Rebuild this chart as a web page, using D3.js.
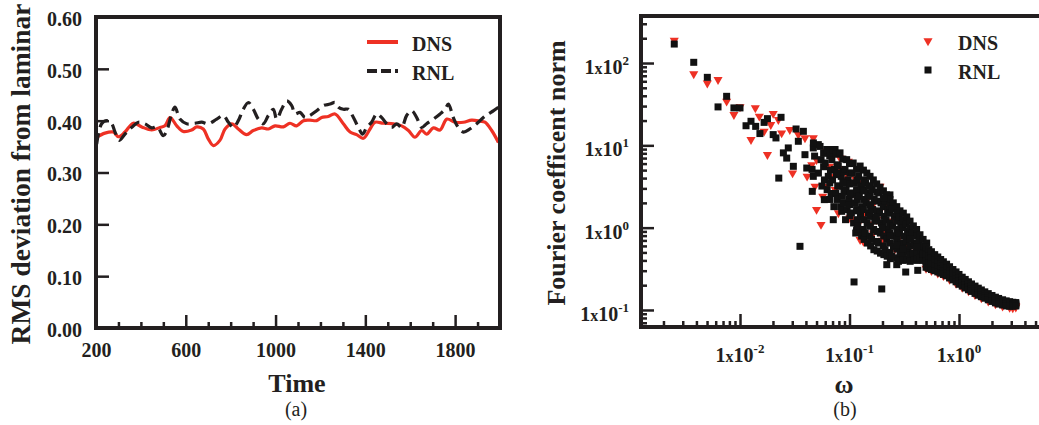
<!DOCTYPE html>
<html>
<head>
<meta charset="utf-8">
<script src="https://cdn.jsdelivr.net/npm/d3@7"></script>
<style>
body { margin: 0; background: #fff; }
text { font-family: "Liberation Serif", "Times New Roman", serif; }
</style>
</head>
<body>
<svg id="chart" width="1039" height="425"></svg>
<script>
// ---- panel (a): RMS deviation vs time ----
const dnsTime = [203,240,277,300,329,366,404,448,485,507,530,560,589,626,649,678,700,723,752,775,805,834,871,901,938,968,998,1035,1064,1094,1124,1153,1183,1205,1235,1265,1302,1332,1361,1391,1421,1443,1480,1525,1562,1592,1621,1651,1673,1703,1733,1763,1800,1837,1874,1911,1933,1963,1993];
const dnsRms = [0.368,0.376,0.378,0.369,0.378,0.395,0.388,0.382,0.387,0.390,0.406,0.390,0.379,0.382,0.388,0.384,0.365,0.352,0.362,0.384,0.394,0.384,0.373,0.381,0.386,0.384,0.390,0.388,0.395,0.390,0.400,0.401,0.400,0.406,0.408,0.413,0.394,0.378,0.373,0.366,0.384,0.397,0.395,0.394,0.390,0.381,0.368,0.381,0.374,0.386,0.382,0.403,0.397,0.397,0.401,0.399,0.397,0.381,0.358];
const rnlTime = [203,225,248,270,285,304,329,359,389,418,448,473,500,518,537,552,574,604,641,671,700,738,767,790,812,834,856,879,901,923,945,968,990,1005,1027,1050,1072,1087,1109,1131,1153,1183,1213,1243,1265,1280,1302,1324,1347,1369,1388,1406,1428,1451,1473,1495,1517,1540,1562,1584,1607,1629,1651,1673,1703,1733,1755,1770,1792,1814,1837,1866,1896,1926,1948,1970,1993];
const rnlRms = [0.355,0.394,0.400,0.394,0.378,0.362,0.374,0.387,0.397,0.394,0.386,0.388,0.371,0.384,0.413,0.426,0.403,0.394,0.395,0.397,0.394,0.403,0.410,0.397,0.387,0.400,0.422,0.435,0.422,0.403,0.394,0.410,0.422,0.403,0.422,0.438,0.429,0.413,0.416,0.406,0.410,0.419,0.429,0.432,0.435,0.426,0.422,0.422,0.406,0.387,0.374,0.387,0.397,0.413,0.406,0.394,0.387,0.394,0.387,0.410,0.419,0.406,0.387,0.394,0.403,0.413,0.422,0.432,0.406,0.387,0.378,0.384,0.394,0.406,0.413,0.419,0.426];
const timeTicks = [200,600,1000,1400,1800];
const timeMinor = [300,400,500,700,800,900,1100,1200,1300,1500,1600,1700,1900];
const rmsTicks = [0,0.1,0.2,0.3,0.4,0.5,0.6];

// ---- panel (b): Fourier coefficient norm vs omega ----
const dnsSpectrum = [
  [0.00251,189],[0.00378,73.7],[0.00503,57],[0.0063,62.8],[0.00755,34.3],[0.0088,23.6],[0.01,29.3],
  [0.0126,11.7],[0.0138,28.5],[0.015,22.5],[0.0166,14.8],[0.0178,7.7],[0.0191,17.8],[0.0201,24.3],
  [0.0224,20.5],[0.024,14.1],[0.0285,15.5],[0.0302,4.6],[0.0341,13.5],[0.0392,12.3],[0.0467,12.3],
  [0.041,4.2],[0.0484,3.18],[0.05,1.66],[0.0549,1.09],[0.0619,3.18],[0.0791,1.51],[0.101,1.31],
  [0.119,1.09],[0.125,0.715],[0.134,0.68],[0.0619,8.45],[0.066,5.56],[0.0976,6.4],[0.088,3.83],
  [0.108,2.64],[0.16,1.81],[0.177,1.25],[0.211,0.86],[0.165,0.86],[0.149,2.64],[0.19,3.18],
  [0.05,6.7],[0.0452,5.8],[0.0711,4.2],[0.1125,1.25],[0.0819,7.0],[0.094,4.5],[0.125,3.5],
  [0.144,2.2],[0.19,1.6],[0.25,1.2],[0.29,0.8],[0.333,0.6],[0.383,0.5],[0.44,0.42],[0.3,1.5],[0.22,2.0],
  [0.057,2.4],[0.074,2.9],[0.083,5.2],[0.113,3.9],[0.138,1.5],[0.158,1.1],[0.2,0.7],[0.26,0.55]
];
const dnsBand = [
  [0.5,0.36,0.32],[0.56,0.34,0.3],[0.64,0.31,0.28],[0.72,0.285,0.26],[0.82,0.26,0.235],[0.94,0.23,0.21],
  [1.07,0.205,0.188],[1.22,0.185,0.17],[1.4,0.165,0.153],[1.6,0.15,0.14],[1.85,0.137,0.128],
  [2.15,0.126,0.118],[2.5,0.117,0.111],[2.9,0.112,0.107],[3.1,0.111,0.106],[3.3,0.112,0.108]
];
const rnlSpectrum = [
  [0.00251,170],[0.00378,102],[0.00503,67],[0.0063,29.3],[0.00755,39.4],[0.0088,28.5],[0.01,28.5],
  [0.01135,17.3],[0.0126,19.6],[0.0139,17],[0.0152,13.9],[0.0166,19],[0.0178,21.1],[0.0201,13.5],
  [0.0213,12.3],[0.0237,21.9],[0.0226,4.0],[0.0249,8.1],[0.0276,9.3],[0.0267,7.0],[0.0307,5.56],
  [0.0325,15.8],[0.0379,14.8],[0.0341,11.2],[0.0392,7.7],[0.0407,5.3],[0.0457,2.76],[0.0467,4.2],
  [0.0353,0.593],[0.0589,2.19],[0.0711,1.25],[0.0849,1.58],[0.110,0.219],[0.197,0.18],[0.219,0.355],
  [0.27,0.355],[0.326,0.289],[0.42,0.303],[0.116,0.92],[0.234,2.5],[0.0519,10.2],[0.0738,8.9],[0.0467,9.3],
  // dense cluster
  [0.0468,10.7],[0.048,7.4],[0.0455,5.1],
  [0.0538,9.7],[0.055,6.7],[0.052,4.6],[0.056,3.2],
  [0.058,8.0],[0.058,5.5],[0.059,3.8],
  [0.0619,8.9],[0.060,6.1],[0.064,4.2],[0.0625,2.9],[0.066,2.2],
  [0.066,7.5],[0.067,5.0],[0.066,3.5],[0.068,2.6],
  [0.0711,8.9],[0.069,6.7],[0.073,5.1],[0.070,3.8],[0.075,2.6],[0.072,1.8],
  [0.076,7.8],[0.077,5.8],[0.076,4.4],[0.078,3.2],[0.077,2.2],
  [0.0819,8.1],[0.079,5.6],[0.084,4.2],[0.081,3.2],[0.086,2.4],[0.083,1.8],
  [0.087,6.8],[0.088,4.8],[0.087,3.6],[0.089,2.7],[0.088,2.0],
  [0.0942,6.7],[0.091,5.1],[0.097,3.8],[0.093,2.9],[0.099,2.2],[0.095,1.66],[0.092,1.25],
  [0.1,6.0],[0.101,4.6],[0.1,3.4],[0.102,2.5],[0.1,1.9],[0.101,1.4],
  [0.108,6.1],[0.105,4.6],[0.111,3.5],[0.107,2.64],[0.113,2.0],[0.104,1.51],[0.109,1.14],[0.114,0.86],
  [0.116,5.1],[0.117,3.8],[0.116,2.9],[0.118,2.2],[0.116,1.66],[0.118,1.25],[0.117,0.95],
  [0.125,5.6],[0.121,4.2],[0.128,3.2],[0.123,2.4],[0.13,1.8],[0.126,1.37],[0.119,1.04],[0.129,0.79],
  [0.134,5.0],[0.135,3.8],[0.134,2.9],[0.136,2.2],[0.134,1.66],[0.135,1.25],[0.134,0.95],[0.136,0.72],
  [0.144,4.6],[0.14,3.5],[0.147,2.64],[0.142,2.0],[0.149,1.51],[0.145,1.14],[0.139,0.86],[0.146,0.65],
  [0.154,4.2],[0.155,3.2],[0.154,2.4],[0.156,1.8],[0.154,1.37],[0.155,1.04],[0.154,0.79],[0.156,0.6],
  [0.165,3.8],[0.161,2.9],[0.168,2.2],[0.163,1.66],[0.17,1.25],[0.166,0.95],[0.159,0.72],[0.167,0.54],
  [0.177,3.4],[0.178,2.7],[0.177,2.1],[0.179,1.6],[0.177,1.2],[0.178,0.9],[0.177,0.68],[0.179,0.52],
  [0.19,3.1],[0.185,2.64],[0.194,2.0],[0.188,1.51],[0.196,1.14],[0.191,0.86],[0.183,0.65],[0.192,0.49],
  [0.204,2.8],[0.205,2.3],[0.204,1.8],[0.206,1.37],[0.204,1.04],[0.205,0.79],[0.204,0.6],[0.206,0.47],
  [0.218,2.5],[0.213,2.1],[0.223,1.66],[0.216,1.25],[0.225,0.95],[0.219,0.72],[0.211,0.54],[0.221,0.45],
  [0.234,2.2],[0.235,1.85],[0.234,1.5],[0.236,1.14],[0.234,0.86],[0.235,0.65],[0.234,0.5],[0.236,0.42],
  [0.251,2.0],[0.245,1.7],[0.256,1.37],[0.248,1.04],[0.258,0.79],[0.252,0.59],[0.243,0.45],
  [0.27,1.8],[0.271,1.5],[0.27,1.2],[0.272,0.95],[0.27,0.72],[0.271,0.55],[0.27,0.43],
  [0.289,1.6],[0.283,1.35],[0.294,1.1],[0.286,0.86],[0.297,0.65],[0.29,0.49],[0.28,0.39],
  [0.31,1.5],[0.311,1.25],[0.31,1.0],[0.312,0.79],[0.31,0.6],[0.311,0.46],[0.31,0.4],
  [0.333,1.35],[0.327,1.12],[0.339,0.9],[0.33,0.68],[0.342,0.52],[0.335,0.41],
  [0.357,1.2],[0.358,1.0],[0.357,0.79],[0.359,0.6],[0.357,0.46],[0.358,0.39],
  [0.383,1.05],[0.376,0.86],[0.39,0.65],[0.38,0.49],[0.387,0.41],
  [0.41,0.95],[0.411,0.79],[0.41,0.62],[0.412,0.5],[0.41,0.4],
  [0.44,0.82],[0.432,0.68],[0.447,0.54],[0.437,0.43],
  [0.47,0.72],[0.471,0.6],[0.47,0.48],[0.472,0.4],
  [0.507,0.65],[0.498,0.52],[0.512,0.41],
  [0.118,1.6],[0.135,2.8],[0.155,1.9],[0.176,1.35],[0.2,1.0],[0.235,0.8],[0.27,0.62],[0.31,0.55],
  [0.36,0.72],[0.41,0.58],[0.47,0.48],[0.101,2.6],[0.088,3.5],[0.077,4.6],[0.152,3.2],[0.205,2.3]
];
// band: omega, then four stacked norms read from top to bottom of the black ribbon
const rnlBand = [
  [0.5,0.58,0.47,0.39,0.33],[0.53,0.54,0.45,0.37,0.32],[0.56,0.51,0.43,0.36,0.31],[0.6,0.47,0.40,0.345,0.30],
  [0.64,0.44,0.38,0.33,0.29],[0.68,0.41,0.36,0.315,0.28],[0.72,0.385,0.34,0.30,0.27],[0.77,0.36,0.32,0.285,0.26],
  [0.82,0.335,0.30,0.27,0.245],[0.88,0.31,0.28,0.255,0.232],[0.94,0.29,0.262,0.24,0.22],[1.0,0.27,0.245,0.225,0.205],
  [1.07,0.25,0.23,0.212,0.195],[1.14,0.235,0.217,0.2,0.185],[1.22,0.22,0.204,0.19,0.176],[1.3,0.207,0.193,0.18,0.168],
  [1.4,0.195,0.182,0.17,0.159],[1.5,0.184,0.172,0.161,0.151],[1.6,0.175,0.164,0.154,0.145],[1.72,0.166,0.156,0.147,0.139],
  [1.85,0.158,0.149,0.14,0.133],[2.0,0.15,0.142,0.134,0.127],[2.15,0.143,0.136,0.129,0.122],[2.3,0.138,0.131,0.124,0.118],
  [2.5,0.133,0.126,0.12,0.115],[2.7,0.129,0.123,0.117,0.112],[2.9,0.126,0.12,0.115,0.111],[3.1,0.124,0.119,0.114,0.111],
  [3.3,0.123,0.119,0.115,0.112]
];
const omegaTicks = [-2, -1, 0];
const normTicks = [-1, 0, 1, 2];

const ink = "#231f20", red = "#ee3124";
const svg = d3.select("#chart");

// ================= panel (a) =================
const xa = d3.scaleLinear().domain([200, 2000]).range([96, 500]);
const ya = d3.scaleLinear().domain([0, 0.6]).range([328, 17]);

const axA = svg.append("g").attr("transform", "translate(96,0)")
    .call(d3.axisLeft(ya).tickValues(rmsTicks).tickSize(-13).tickPadding(14).tickFormat(d3.format(".2f")));
svg.append("g").attr("transform", "translate(0,328)")
    .call(d3.axisBottom(xa).tickValues(timeTicks).tickSize(-13).tickPadding(15).tickFormat(d3.format("d")));
svg.append("g").attr("transform", "translate(0,328)")
    .call(d3.axisBottom(xa).tickValues(timeMinor).tickSize(-6).tickFormat(""));

const line = d3.line().x(d => xa(d[0])).y(d => ya(d[1])).curve(d3.curveCatmullRom.alpha(0.5));
svg.append("path").datum(dnsTime.map((t, i) => [t, dnsRms[i]]))
    .attr("d", line).attr("fill", "none").attr("stroke", red).attr("stroke-width", 3.2);
svg.append("path").datum(rnlTime.map((t, i) => [t, rnlRms[i]]))
    .attr("d", line).attr("fill", "none").attr("stroke", ink).attr("stroke-width", 3.2)
    .attr("stroke-dasharray", "11,6");

svg.append("rect").attr("x", 96).attr("y", 17).attr("width", 404).attr("height", 311)
    .attr("fill", "none").attr("stroke", ink).attr("stroke-width", 4);

// legend (a)
svg.append("line").attr("x1", 367).attr("x2", 398).attr("y1", 42).attr("y2", 42)
    .attr("stroke", red).attr("stroke-width", 4);
svg.append("line").attr("x1", 367).attr("x2", 398).attr("y1", 71).attr("y2", 71)
    .attr("stroke", ink).attr("stroke-width", 4).attr("stroke-dasharray", "10,4");
svg.append("text").attr("x", 412).attr("y", 51).text("DNS");
svg.append("text").attr("x", 412).attr("y", 80).text("RNL");

svg.append("text").attr("transform", "translate(30,174) rotate(-90)")
    .attr("text-anchor", "middle").attr("class", "title ytitle").text("RMS deviation from laminar");
svg.append("text").attr("x", 297).attr("y", 392).attr("text-anchor", "middle")
    .attr("class", "title").text("Time");
svg.append("text").attr("x", 296).attr("y", 416).attr("text-anchor", "middle")
    .attr("class", "cap").text("(a)");

// ================= panel (b) =================
const xb = d3.scaleLog().domain([0.001247, 6.1]).range([641, 1045]);
const yb = d3.scaleLog().domain([0.0621, 372.6]).range([327, 16]);

const minorOf = (scale) => {
  const [a, b] = scale.domain();
  const out = [];
  for (let k = -4; k <= 3; k++) for (let m = 2; m <= 9; m++) {
    const v = m * Math.pow(10, k);
    if (v > a && v < b) out.push(v);
  }
  return out;
};

svg.append("g").attr("transform", "translate(641,0)")
    .call(d3.axisLeft(yb).tickValues(normTicks.map(e => Math.pow(10, e))).tickSize(-13).tickFormat(""));
svg.append("g").attr("transform", "translate(641,0)")
    .call(d3.axisLeft(yb).tickValues(minorOf(yb)).tickSize(-6).tickFormat(""));
svg.append("g").attr("transform", "translate(0,327)")
    .call(d3.axisBottom(xb).tickValues(omegaTicks.map(e => Math.pow(10, e))).tickSize(-13).tickFormat(""));
svg.append("g").attr("transform", "translate(0,327)")
    .call(d3.axisBottom(xb).tickValues(minorOf(xb)).tickSize(-6).tickFormat(""));

// scatter: DNS triangles under RNL squares
const dnsAll = dnsSpectrum.concat(dnsBand.flatMap(r => r.slice(1).map(v => [r[0], v])));
const rnlAll = rnlSpectrum.concat(rnlBand.flatMap(r => r.slice(1).map(v => [r[0], v])));

const tri = d3.symbol().type(d3.symbolTriangle).size(36);
svg.append("g").selectAll("path").data(dnsAll).enter().append("path")
    .attr("d", tri)
    .attr("transform", d => `translate(${xb(d[0])},${yb(d[1])}) rotate(180)`)
    .attr("fill", red);
svg.append("g").selectAll("rect").data(rnlAll).enter().append("rect")
    .attr("x", d => xb(d[0]) - 3.5).attr("y", d => yb(d[1]) - 3.5)
    .attr("width", 7).attr("height", 7).attr("fill", "#111");

svg.append("rect").attr("x", 641).attr("y", 16).attr("width", 430).attr("height", 311)
    .attr("fill", "none").attr("stroke", ink).attr("stroke-width", 4);

// log tick labels
const expLabel = (sel, e) => {
  sel.append("tspan").text("1");
  sel.append("tspan").attr("font-size", 16).text("x");
  sel.append("tspan").text("10");
  sel.append("tspan").attr("font-size", 13).attr("dy", -9).text(String(e));
};
normTicks.forEach(e => {
  const t = svg.append("text").attr("class", "tick")
      .attr("x", 629).attr("y", yb(Math.pow(10, e)) + 11).attr("text-anchor", "end");
  expLabel(t, e);
});
omegaTicks.forEach(e => {
  const t = svg.append("text").attr("class", "tick")
      .attr("x", xb(Math.pow(10, e))).attr("y", 362).attr("text-anchor", "middle");
  expLabel(t, e);
});

// legend (b)
svg.append("path").attr("d", tri).attr("transform", "translate(928,41) rotate(180)").attr("fill", red);
svg.append("rect").attr("x", 924.5).attr("y", 66.5).attr("width", 7).attr("height", 7).attr("fill", "#111");
svg.append("text").attr("x", 958).attr("y", 50).text("DNS");
svg.append("text").attr("x", 958).attr("y", 79).text("RNL");

svg.append("text").attr("transform", "translate(565,173) rotate(-90)")
    .attr("text-anchor", "middle").attr("class", "title").text("Fourier coefficent norm");
svg.append("text").attr("x", 844).attr("y", 393).attr("text-anchor", "middle")
    .attr("class", "title").text("ω");
svg.append("text").attr("x", 845).attr("y", 416).attr("text-anchor", "middle")
    .attr("class", "cap").text("(b)");

// styling
svg.selectAll(".domain").remove();
svg.selectAll(".tick line").attr("stroke", ink).attr("stroke-width", 2.5);
svg.selectAll("text").attr("fill", ink).style("font-weight", "bold").style("font-size", "20px");
svg.selectAll(".tick text").attr("fill", ink).style("font-size", "20px");
svg.selectAll(".title").style("font-size", "26px");
svg.selectAll(".ytitle").style("font-size", "27.5px");
svg.selectAll(".cap").style("font-weight", "normal").style("font-size", "20px");
axA.selectAll("text").attr("dy", "0.42em");
</script>
</body>
</html>
